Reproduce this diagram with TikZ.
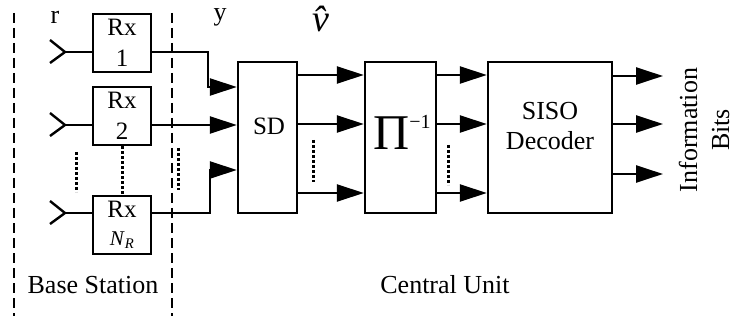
\documentclass[tikz,border=0pt]{standalone}
\usepackage{fontspec}
\setmainfont{Liberation Serif}
\usetikzlibrary{arrows.meta,calc}
\begin{document}
\begin{tikzpicture}[x=1pt,y=-1pt,
  box/.style={draw,line width=2.4pt,inner sep=0pt,align=center},
  wire/.style={line width=2.4pt},
  arr/.style={wire,-{Triangle[length=27pt,width=17pt]}},
  dotsline/.style={line width=3pt,dash pattern=on 3pt off 2pt},
  sep/.style={line width=1.4pt,dash pattern=on 10pt off 5pt},
  lab/.style={font=\fontsize{26}{31}\selectfont,inner sep=0pt},
  rxbox/.style={box,minimum width=58pt,minimum height=58pt,font=\fontsize{25}{31}\selectfont}]
\useasboundingbox (0,0) rectangle (743,320);
% separators
\coordinate (s1t) at (14,13); \coordinate (s1b) at (14,316);
\coordinate (s2t) at (172,13); \coordinate (s2b) at (172,316);
\draw[sep] (s1t) -- (s1b);
\draw[sep] (s2t) -- (s2b);
% Rx boxes
\node[rxbox] (rx1) at (122,43) {Rx\\1};
\node[rxbox] (rx2) at (122,116) {Rx\\2};
\node[rxbox] (rx3) at (122,225) {Rx\\[-3pt]{\fontsize{21}{21}\selectfont\textit{N}\textsubscript{\textit{R}}}};
% antennas
\foreach \i/\y in {1/52,2/125,3/213}{
  \coordinate (at\i) at (65,\y);
  \coordinate (au\i) at (50,\y-12);
  \coordinate (ad\i) at (50,\y+11);
  \draw[wire] (au\i) -- (at\i) -- (ad\i);
}
\draw[wire] (at1) -- (rx1.west |- at1);
\draw[wire] (at2) -- (rx2.west |- at2);
\draw[wire] (at3) -- (rx3.west |- at3);
% main boxes
\node[box,minimum width=59pt,minimum height=151pt] (sd) at (267.5,137.5) {};
\node[lab,font=\fontsize{25}{30}\selectfont] (sdtxt) at (269,126) {SD};
\node[box,minimum width=71pt,minimum height=151pt] (pi) at (400.5,137.5) {};
\node (pitxt) at (402,132) {{\fontsize{50}{50}\selectfont Π}\raisebox{21pt}{\fontsize{20}{20}\selectfont −1}};
\node[box,minimum width=124pt,minimum height=151pt] (siso) at (550,137.5) {};
\node[lab,align=center,font=\fontsize{26}{30}\selectfont] (sisotxt) at (550,126) {SISO\\Decoder};
% Rx -> SD
\coordinate (c1) at (208,52); \coordinate (c1b) at (208,87);
\coordinate (c3) at (210,213); \coordinate (c3b) at (210,170);
\draw[arr] (rx1.east |- c1) -- (c1) -- (c1b) -- (sd.west |- c1b);
\draw[arr] (rx2.east |- at2) -- (sd.west |- at2);
\draw[arr] (rx3.east |- c3) -- (c3) -- (c3b) -- (sd.west |- c3b);
% SD -> Pi -> SISO
\foreach \y in {75,124,193}{
  \draw[arr] (sd.east |- 0,\y) -- (pi.west |- 0,\y);
  \draw[arr] (pi.east |- 0,\y) -- (siso.west |- 0,\y);
}
% outputs
\coordinate (o1) at (663,76); \coordinate (o2) at (663,124); \coordinate (o3) at (663,174);
\draw[arr] (siso.east |- o1) -- (o1);
\draw[arr] (siso.east |- o2) -- (o2);
\draw[arr] (siso.east |- o3) -- (o3);
% dotted lines
\coordinate (d1t) at (76,152); \coordinate (d1b) at (76,192);
\draw[dotsline] (d1t) -- (d1b);
\draw[dotsline] (rx2.south) -- (rx3.north);
\coordinate (d2t) at (178,148); \coordinate (d2b) at (178,190);
\draw[dotsline] (d2t) -- (d2b);
\coordinate (d3t) at (313,140); \coordinate (d3b) at (313,182);
\draw[dotsline] (d3t) -- (d3b);
\coordinate (d4t) at (448,145); \coordinate (d4b) at (448,185);
\draw[dotsline] (d4t) -- (d4b);
% labels
\node[lab] (lr) at (55,17) {r};
\node[lab] (ly) at (220,17) {y};
\node[lab,font=\fontsize{38}{40}\selectfont] (lv) at (321,19) {\itshape v̂};
\node[lab] (lbs) at (93,285) {Base Station};
\node[lab] (lcu) at (445,285) {Central Unit};
\node[lab,rotate=90,align=center,font=\fontsize{26}{32}\selectfont] (lib) at (704,130) {Information\\Bits};
\end{tikzpicture}
\end{document}
